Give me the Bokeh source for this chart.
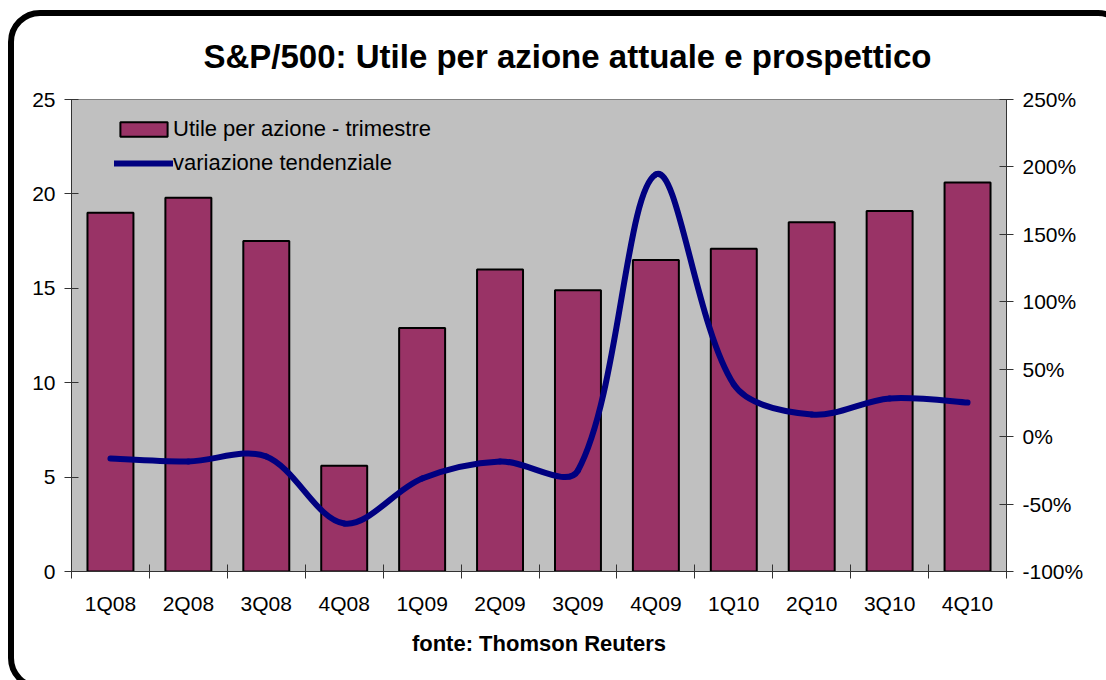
import math
from bokeh.plotting import figure
from bokeh.models import (Range1d, LinearAxis, FixedTicker, PrintfTickFormatter,
                          Legend, LegendItem, Title, ColumnDataSource,
                          InlineStyleSheet, GlobalInlineStyleSheet)
from bokeh.embed import file_html
from bokeh.resources import INLINE

# ---- data ----
categories = ["1Q08", "2Q08", "3Q08", "4Q08", "1Q09", "2Q09",
              "3Q09", "4Q09", "1Q10", "2Q10", "3Q10", "4Q10"]
eps_values = [19.0, 19.8, 17.5, 5.6, 12.9, 16.0, 14.9, 16.5, 17.1, 18.5, 19.1, 20.6]
yoy_change = [-16.2, -18.4, -14.7, -64.4, -31.0, -18.4, -25.1, 194.4, 38.7, 16.4, 28.3, 25.3]
left_ticks = [0, 5, 10, 15, 20, 25]
right_ticks = [-100, -50, 0, 50, 100, 150, 200, 250]

title_text = "S&P/500: Utile per azione attuale e prospettico"
source_text = "fonte: Thomson Reuters"
bar_label = "Utile per azione - trimestre"
line_label = "variazione tendenziale"

FONT = "Liberation Sans"
n = len(categories)
xc = [i + 0.5 for i in range(n)]

W, H = 1090, 664
ML, MT, MR, MB = 71, 99, 84, 93
frame_w = W - ML - MR
frame_h = H - MT - MB

p = figure(width=W, height=H, output_backend="svg", toolbar_location=None,
           x_range=Range1d(0, n), y_range=Range1d(0, 25),
           min_border_left=ML, min_border_right=MR, min_border_top=MT, min_border_bottom=MB,
           background_fill_color="#C0C0C0", border_fill_color="white",
           outline_line_color="#808080", outline_line_width=1)
p.grid.visible = False
p.extra_y_ranges = {"pct": Range1d(-100, 250)}

# bars
bar_src = ColumnDataSource(dict(x=xc, top=eps_values))
bars = p.vbar(x="x", top="top", width=0.59, bottom=0, source=bar_src,
              fill_color="#993366", line_color="black", line_width=2)

# smoothed line: Bezier segments, control points from neighbouring points,
# tangent split by (screen) chord lengths like spreadsheet smoothing
kx = frame_w / n
ky = frame_h / 350.0
S = [(x * kx, y * ky) for x, y in zip(xc, yoy_change)]

def dist(a, b):
    return math.hypot(a[0] - b[0], a[1] - b[1])

out_cp, in_cp = [], []
for i in range(n):
    if i == 0:
        T = (S[1][0] - S[0][0], S[1][1] - S[0][1]); fo = 1 / 6.0; fi = 1 / 6.0
    elif i == n - 1:
        T = (S[i][0] - S[i - 1][0], S[i][1] - S[i - 1][1]); fo = 1 / 6.0; fi = 1 / 6.0
    else:
        T = (S[i + 1][0] - S[i - 1][0], S[i + 1][1] - S[i - 1][1])
        dp, dn = dist(S[i], S[i - 1]), dist(S[i + 1], S[i])
        fo = dn / (dp + dn) / 3.0
        fi = dp / (dp + dn) / 3.0
    out_cp.append((S[i][0] + T[0] * fo, S[i][1] + T[1] * fo))
    in_cp.append((S[i][0] - T[0] * fi, S[i][1] - T[1] * fi))

x0 = xc[:-1]; y0 = yoy_change[:-1]; x1 = xc[1:]; y1 = yoy_change[1:]
cx0 = [out_cp[i][0] / kx for i in range(n - 1)]
cy0 = [out_cp[i][1] / ky for i in range(n - 1)]
cx1 = [in_cp[i + 1][0] / kx for i in range(n - 1)]
cy1 = [in_cp[i + 1][1] / ky for i in range(n - 1)]
bz = p.bezier(x0=x0, y0=y0, x1=x1, y1=y1, cx0=cx0, cy0=cy0, cx1=cx1, cy1=cy1,
              y_range_name="pct", line_color="#000080", line_width=6, line_cap="round")

AX = "#333333"
# left axis
ya = p.yaxis[0]
ya.ticker = FixedTicker(ticks=left_ticks)
ya.major_tick_in = 7
ya.major_tick_out = 7
ya.minor_tick_line_color = None
ya.major_label_standoff = 9
ya.axis_line_color = AX
ya.major_tick_line_color = AX
ya.major_label_text_font = FONT
ya.major_label_text_font_size = "21px"
ya.major_label_text_color = "black"

# right axis
ra = LinearAxis(y_range_name="pct", ticker=FixedTicker(ticks=right_ticks),
                formatter=PrintfTickFormatter(format="%d%%"))
ra.major_tick_in = 7
ra.major_tick_out = 7
ra.minor_tick_line_color = None
ra.major_label_standoff = 9
ra.axis_line_color = AX
ra.major_tick_line_color = AX
ra.major_label_text_font = FONT
ra.major_label_text_font_size = "21px"
ra.major_label_text_color = "black"
p.add_layout(ra, "right")

# bottom axis: labels at centres, ticks at category boundaries (minor ticks)
xa = p.xaxis[0]
xa.ticker = FixedTicker(ticks=xc, minor_ticks=list(range(n + 1)))
xa.major_label_overrides = {x: c for x, c in zip(xc, categories)}
xa.major_tick_line_color = None
xa.major_tick_in = 0
xa.major_tick_out = 0
xa.minor_tick_in = 7
xa.minor_tick_out = 7
xa.minor_tick_line_color = AX
xa.axis_line_color = AX
xa.major_label_standoff = 13
xa.major_label_text_font = FONT
xa.major_label_text_font_size = "21px"
xa.major_label_text_color = "black"
xa.axis_label = source_text
xa.axis_label_text_font = FONT
xa.axis_label_text_font_size = "22px"
xa.axis_label_text_font_style = "bold"
xa.axis_label_text_color = "black"
xa.axis_label_standoff = 13

# title
p.title = Title(text=title_text, align="left", offset=132,
                text_font=FONT, text_font_size="33px", text_font_style="bold",
                text_color="black", standoff=49)

# legend
legend = Legend(items=[LegendItem(label=bar_label, renderers=[bars]),
                       LegendItem(label=line_label, renderers=[bz])],
                location=(43, 391), padding=0, margin=0, spacing=0,
                glyph_width=59, glyph_height=18, label_height=34, label_standoff=0,
                label_text_font=FONT, label_text_font_size="22px", label_text_color="black",
                background_fill_alpha=0, border_line_color=None)
p.add_layout(legend, "center")

# rounded outer frame of the chart (drawn by CSS on the plot element)
p.stylesheets = [
    GlobalInlineStyleSheet(css="html, body { overflow: hidden; }"),
    InlineStyleSheet(css="""
:host { position: relative; overflow: visible; }
:host::after { content: ""; position: absolute; left: 8px; top: 10px;
  width: 1122px; height: 680px; box-sizing: border-box;
  border: 6px solid black; border-radius: 32px; pointer-events: none; }
"""),
]

open("out.html", "w").write(file_html(p, INLINE))
